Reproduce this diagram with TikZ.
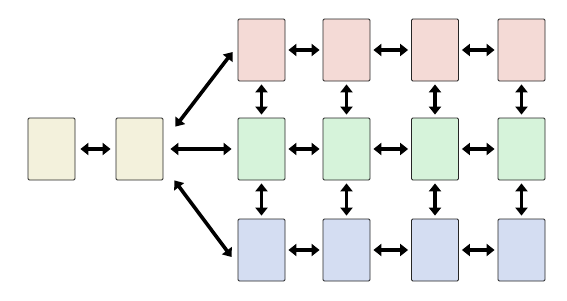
\documentclass[tikz,border=0pt]{standalone}
\usepackage{tikz}
\usetikzlibrary{arrows.meta,positioning}
\definecolor{cream}{RGB}{243,241,220}
\definecolor{rose}{RGB}{244,218,214}
\definecolor{mint}{RGB}{214,243,218}
\definecolor{sky}{RGB}{212,221,242}

\begin{document}
\begin{tikzpicture}[x=1pt, y=-1pt,
	   cell/.style={draw=black!85, line width=0.8pt, rounded corners=1.2pt, inner sep=0pt,
	     minimum width=47pt, minimum height=62pt},
	   link/.style={{Triangle[length=8pt,width=12pt]}-{Triangle[length=8pt,width=12pt]},
	     line width=3.6pt, shorten <=3pt, shorten >=3pt}]
	  \useasboundingbox (0,0) rectangle (567,300);
	  \node[cell, fill=cream] (s1) at (51.5,149) {};
	  \node[cell, fill=cream] (s2) at (139.5,149) {};
	  \foreach \c/\x in {1/261.5,2/346.5,3/435,4/521.5} {
	    \node[cell, fill=rose] (t\c) at (\x,50) {};
	    \node[cell, fill=mint] (m\c) at (\x,149) {};
	    \node[cell, fill=sky] (u\c) at (\x,250) {};
	  }
	  \draw[link, shorten <=5pt, shorten >=5pt] (s1) -- (s2);
	  \draw[link, shorten <=7pt, shorten >=6pt] (s2) -- (m1);
	  \draw[link, shorten <=0pt, shorten >=0pt] ([xshift=12pt,yshift=-9pt]s2.north east) -- ([xshift=-5pt,yshift=-2pt]t1.west);
	  \draw[link, shorten <=0pt, shorten >=0pt] ([xshift=11pt]s2.south east) -- ([xshift=-6pt,yshift=-7pt]u1.west);
	  \foreach \a/\b in {1/2,2/3,3/4} {
	    \draw[link] (t\a) -- (t\b);
	    \draw[link] (m\a) -- (m\b);
	    \draw[link] (u\a) -- (u\b);
	  }
	  \foreach \c in {1,...,4} {
	    \draw[link] (t\c) -- (m\c);
	    \draw[link] (m\c) -- (u\c);
	  }
	\end{tikzpicture}
\end{document}
